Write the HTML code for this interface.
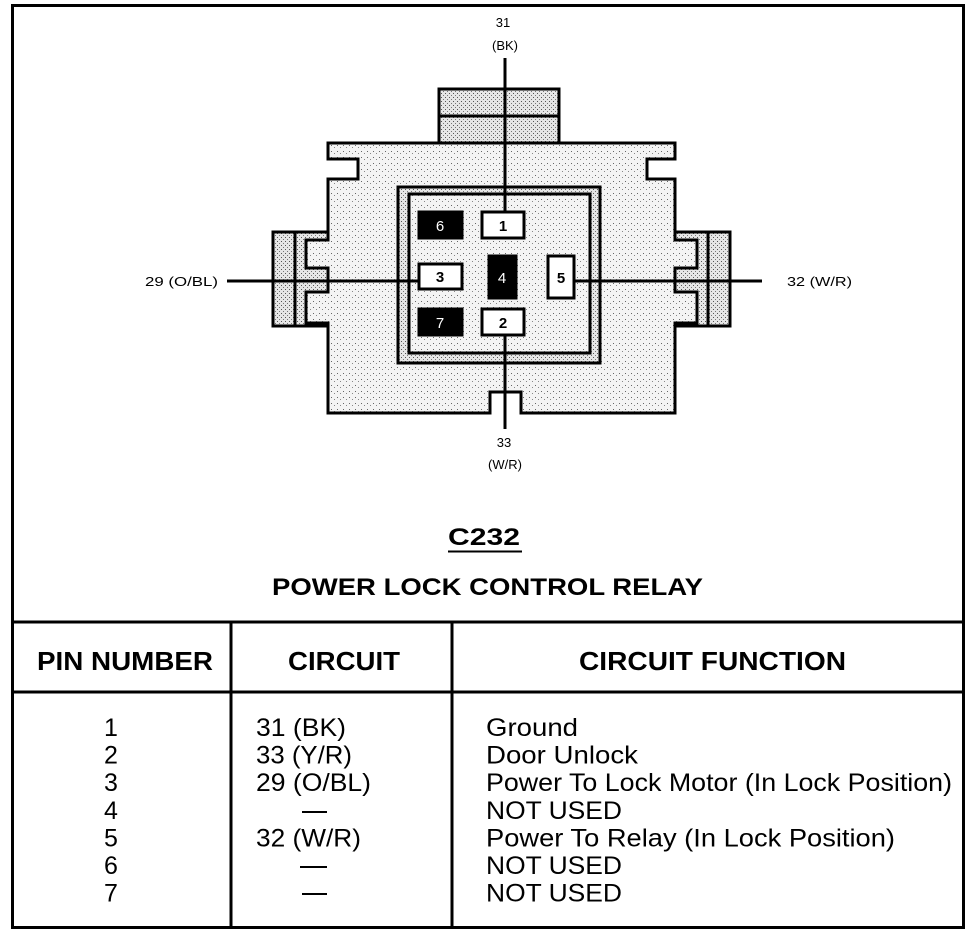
<!DOCTYPE html>
<html><head><meta charset="utf-8"><style>html,body{margin:0;padding:0;background:#fff}svg{display:block}</style></head>
<body>
<svg width="976" height="936" viewBox="0 0 976 936" xmlns="http://www.w3.org/2000/svg" font-family="Liberation Sans, Arial, sans-serif">
<defs>
<pattern id="dots" width="6" height="6" patternUnits="userSpaceOnUse">
<rect width="6" height="6" fill="#f4f4f4"/>
<rect x="1" y="1" width="1" height="1" fill="#666"/>
<rect x="4" y="3" width="1" height="1" fill="#888"/>
</pattern>
<pattern id="dots2" width="4" height="4" patternUnits="userSpaceOnUse">
<rect width="4" height="4" fill="#e6e6e6"/>
<rect x="1" y="1" width="1" height="1" fill="#555"/>
<rect x="3" y="3" width="1" height="1" fill="#777"/>
</pattern>
</defs>
<rect x="12.5" y="5.5" width="951" height="922" fill="#fff" stroke="#000" stroke-width="3"/>

<g stroke="#000" stroke-width="3" stroke-linejoin="miter">
<!-- top cap -->
<rect x="439" y="89" width="120" height="54" fill="url(#dots2)"/>
<line x1="439" y1="116" x2="559" y2="116"/>
<!-- side pieces -->
<rect x="273" y="232" width="55" height="94" fill="url(#dots2)"/>
<line x1="295" y1="232" x2="295" y2="326"/>
<rect x="675" y="232" width="55" height="94" fill="url(#dots2)"/>
<line x1="708" y1="232" x2="708" y2="326"/>
<!-- body -->
<path d="M328,143 H675 V159 H647 V179 H675 V240 H697 V268 H675 V292 H697 V323 H675 V413 H521 V392 H490 V413 H328 V323 H306 V292 H328 V268 H306 V240 H328 V179 H358 V159 H328 Z" fill="url(#dots)"/>
<rect x="398" y="187" width="202" height="176" fill="url(#dots2)"/>
<rect x="409" y="194" width="181" height="159" fill="url(#dots)"/>
</g>
<!-- wires -->
<g stroke="#000" stroke-width="3">
<line x1="505" y1="58" x2="505" y2="212"/>
<line x1="505" y1="335" x2="505" y2="429"/>
<line x1="227" y1="281" x2="418" y2="281"/>
<line x1="574" y1="281" x2="762" y2="281"/>
</g>
<!-- pins -->
<g stroke="#000" stroke-width="3">
<rect x="419" y="212" width="43" height="26" fill="#000"/>
<rect x="482" y="212" width="42" height="26" fill="#fff"/>
<rect x="419" y="264" width="43" height="25" fill="#fff"/>
<rect x="489" y="256" width="27" height="42" fill="#000"/>
<rect x="548" y="256" width="26" height="42" fill="#fff"/>
<rect x="419" y="309" width="43" height="26" fill="#000"/>
<rect x="482" y="309" width="42" height="26" fill="#fff"/>
</g>
<g font-size="15" text-anchor="middle">
<text x="440" y="231" fill="#fff">6</text>
<text x="503" y="231" font-weight="bold">1</text>
<text x="440" y="282" font-weight="bold">3</text>
<text x="502" y="283" fill="#fff">4</text>
<text x="561" y="283" font-weight="bold">5</text>
<text x="440" y="328" fill="#fff">7</text>
<text x="503" y="328" font-weight="bold">2</text>
</g>
<g font-size="13" text-anchor="middle">
<text x="503" y="27">31</text>
<text x="505" y="50">(BK)</text>
<text x="504" y="447">33</text>
<text x="505" y="469">(W/R)</text>
</g>
<text x="145" y="286" font-size="13" textLength="73" lengthAdjust="spacingAndGlyphs">29 (O/BL)</text>
<text x="787" y="286" font-size="13" textLength="65" lengthAdjust="spacingAndGlyphs">32 (W/R)</text>

<text x="448" y="545" font-size="24" font-weight="bold" textLength="72" lengthAdjust="spacingAndGlyphs">C232</text>
<line x1="448" y1="551.5" x2="522" y2="551.5" stroke="#000" stroke-width="2"/>
<text x="272" y="595" font-size="24" font-weight="bold" textLength="431" lengthAdjust="spacingAndGlyphs">POWER LOCK CONTROL RELAY</text>

<!-- table -->
<g stroke="#000" stroke-width="3">
<line x1="12" y1="622" x2="964" y2="622"/>
<line x1="12" y1="692" x2="964" y2="692"/>
<line x1="231" y1="622" x2="231" y2="928"/>
<line x1="452" y1="622" x2="452" y2="928"/>
</g>
<g font-size="26" font-weight="bold">
<text x="37" y="670" textLength="176" lengthAdjust="spacingAndGlyphs">PIN NUMBER</text>
<text x="288" y="670" textLength="112" lengthAdjust="spacingAndGlyphs">CIRCUIT</text>
<text x="579" y="670" textLength="267" lengthAdjust="spacingAndGlyphs">CIRCUIT FUNCTION</text>
</g>
<g font-size="25" text-anchor="middle">
<text x="111" y="736">1</text>
<text x="111" y="763.6">2</text>
<text x="111" y="791.2">3</text>
<text x="111" y="818.8">4</text>
<text x="111" y="846.4">5</text>
<text x="111" y="874">6</text>
<text x="111" y="901.6">7</text>
</g>
<g font-size="25">
<text x="256" y="736" textLength="90" lengthAdjust="spacingAndGlyphs">31 (BK)</text>
<text x="256" y="763.6" textLength="96" lengthAdjust="spacingAndGlyphs">33 (Y/R)</text>
<text x="256" y="791.2" textLength="115" lengthAdjust="spacingAndGlyphs">29 (O/BL)</text>
<text x="256" y="846.4" textLength="105" lengthAdjust="spacingAndGlyphs">32 (W/R)</text>
</g>
<g stroke="#000" stroke-width="2">
<line x1="302" y1="812" x2="327" y2="812"/>
<line x1="300" y1="867" x2="327" y2="867"/>
<line x1="302" y1="894" x2="327" y2="894"/>
</g>
<g font-size="25">
<text x="486" y="736" textLength="92" lengthAdjust="spacingAndGlyphs">Ground</text>
<text x="486" y="763.6" textLength="152" lengthAdjust="spacingAndGlyphs">Door Unlock</text>
<text x="486" y="791.2" textLength="466" lengthAdjust="spacingAndGlyphs">Power To Lock Motor (In Lock Position)</text>
<text x="486" y="818.8" textLength="136" lengthAdjust="spacingAndGlyphs">NOT USED</text>
<text x="486" y="846.4" textLength="409" lengthAdjust="spacingAndGlyphs">Power To Relay (In Lock Position)</text>
<text x="486" y="874" textLength="136" lengthAdjust="spacingAndGlyphs">NOT USED</text>
<text x="486" y="901.6" textLength="136" lengthAdjust="spacingAndGlyphs">NOT USED</text>
</g>
</svg>
</body></html>
